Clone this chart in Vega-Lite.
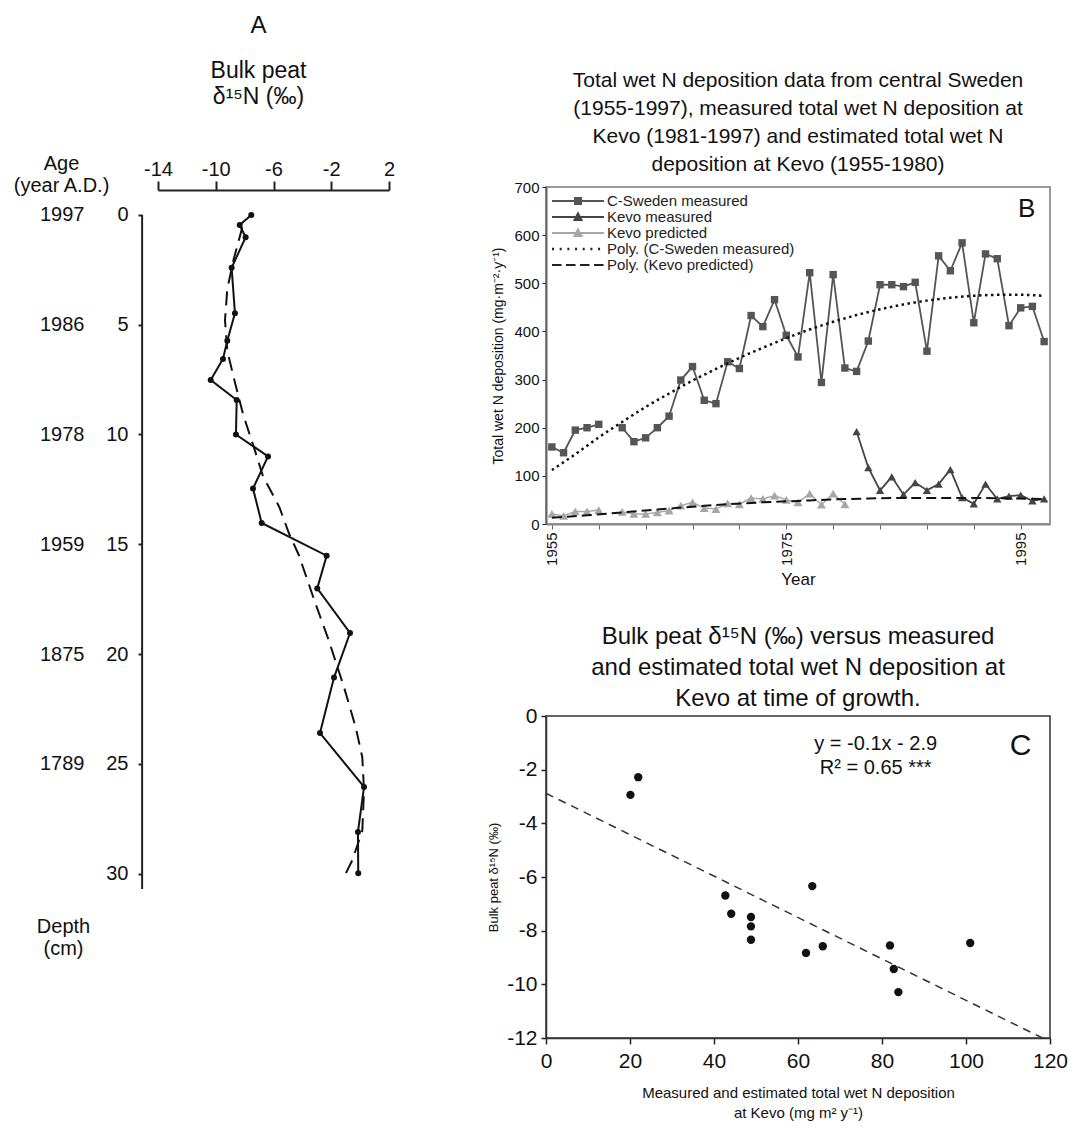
{
  "$schema": "https://vega.github.io/schema/vega-lite/v6.json",
  "background": "white",
  "padding": {"left": 12, "top": 14, "right": 5, "bottom": 5},
  "config": {
    "font": "Liberation Sans",
    "view": {"stroke": null},
    "axis": {"grid": false, "labelColor": "#111", "titleColor": "#111", "titleFontWeight": "normal", "domainColor": "#222", "tickColor": "#222", "labelFont": "Liberation Sans", "titleFont": "Liberation Sans"},
    "title": {"fontWeight": "normal", "color": "#111", "subtitleColor": "#111", "font": "Liberation Sans", "subtitleFont": "Liberation Sans"},
    "legend": {"labelFont": "Liberation Sans"}
  },
  "datasets": {
    "a_peat": [
      {"depth": 0, "d15N": -7.54}, {"depth": 0.46, "d15N": -8.34}, {"depth": 1.02, "d15N": -7.93},
      {"depth": 2.41, "d15N": -8.9}, {"depth": 4.48, "d15N": -8.67}, {"depth": 5.73, "d15N": -9.2},
      {"depth": 6.56, "d15N": -9.5}, {"depth": 7.52, "d15N": -10.35}, {"depth": 8.43, "d15N": -8.55},
      {"depth": 10.0, "d15N": -8.6}, {"depth": 11.0, "d15N": -6.38}, {"depth": 12.46, "d15N": -7.42},
      {"depth": 14.03, "d15N": -6.82}, {"depth": 15.52, "d15N": -2.32}, {"depth": 17.01, "d15N": -2.97},
      {"depth": 19.04, "d15N": -0.7}, {"depth": 21.07, "d15N": -1.81}, {"depth": 23.6, "d15N": -2.78},
      {"depth": 26.05, "d15N": 0.27}, {"depth": 28.1, "d15N": -0.15}, {"depth": 29.98, "d15N": -0.13}
    ],
    "a_trend": [
      {"depth": 0.56, "d15N": -8.16}, {"depth": 2.0, "d15N": -8.75}, {"depth": 3.37, "d15N": -9.2},
      {"depth": 4.8, "d15N": -9.36}, {"depth": 6.2, "d15N": -9.2}, {"depth": 7.55, "d15N": -8.7},
      {"depth": 9.1, "d15N": -8.1}, {"depth": 10.6, "d15N": -7.35}, {"depth": 11.9, "d15N": -6.73},
      {"depth": 13.3, "d15N": -5.6}, {"depth": 14.5, "d15N": -4.93}, {"depth": 15.5, "d15N": -4.24},
      {"depth": 17.5, "d15N": -3.2}, {"depth": 19.4, "d15N": -2.16}, {"depth": 21.5, "d15N": -1.12},
      {"depth": 23.35, "d15N": -0.3}, {"depth": 24.7, "d15N": 0.15}, {"depth": 26.2, "d15N": 0.27},
      {"depth": 28.05, "d15N": 0.15}, {"depth": 29.4, "d15N": -0.55}, {"depth": 30.0, "d15N": -1.0}
    ],
    "b": [
      {"year": 1955, "value": 160, "series": "C-Sweden measured"}, {"year": 1956, "value": 148, "series": "C-Sweden measured"},
      {"year": 1957, "value": 195, "series": "C-Sweden measured"}, {"year": 1958, "value": 200, "series": "C-Sweden measured"},
      {"year": 1959, "value": 207, "series": "C-Sweden measured"}, {"year": 1960, "value": null, "series": "C-Sweden measured"},
      {"year": 1961, "value": 200, "series": "C-Sweden measured"}, {"year": 1962, "value": 171, "series": "C-Sweden measured"},
      {"year": 1963, "value": 179, "series": "C-Sweden measured"}, {"year": 1964, "value": 200, "series": "C-Sweden measured"},
      {"year": 1965, "value": 224, "series": "C-Sweden measured"}, {"year": 1966, "value": 299, "series": "C-Sweden measured"},
      {"year": 1967, "value": 327, "series": "C-Sweden measured"}, {"year": 1968, "value": 257, "series": "C-Sweden measured"},
      {"year": 1969, "value": 250, "series": "C-Sweden measured"}, {"year": 1970, "value": 337, "series": "C-Sweden measured"},
      {"year": 1971, "value": 323, "series": "C-Sweden measured"}, {"year": 1972, "value": 433, "series": "C-Sweden measured"},
      {"year": 1973, "value": 410, "series": "C-Sweden measured"}, {"year": 1974, "value": 466, "series": "C-Sweden measured"},
      {"year": 1975, "value": 392, "series": "C-Sweden measured"}, {"year": 1976, "value": 347, "series": "C-Sweden measured"},
      {"year": 1977, "value": 522, "series": "C-Sweden measured"}, {"year": 1978, "value": 294, "series": "C-Sweden measured"},
      {"year": 1979, "value": 518, "series": "C-Sweden measured"}, {"year": 1980, "value": 324, "series": "C-Sweden measured"},
      {"year": 1981, "value": 317, "series": "C-Sweden measured"}, {"year": 1982, "value": 380, "series": "C-Sweden measured"},
      {"year": 1983, "value": 497, "series": "C-Sweden measured"}, {"year": 1984, "value": 497, "series": "C-Sweden measured"},
      {"year": 1985, "value": 493, "series": "C-Sweden measured"}, {"year": 1986, "value": 502, "series": "C-Sweden measured"},
      {"year": 1987, "value": 359, "series": "C-Sweden measured"}, {"year": 1988, "value": 557, "series": "C-Sweden measured"},
      {"year": 1989, "value": 526, "series": "C-Sweden measured"}, {"year": 1990, "value": 584, "series": "C-Sweden measured"},
      {"year": 1991, "value": 418, "series": "C-Sweden measured"}, {"year": 1992, "value": 561, "series": "C-Sweden measured"},
      {"year": 1993, "value": 551, "series": "C-Sweden measured"}, {"year": 1994, "value": 412, "series": "C-Sweden measured"},
      {"year": 1995, "value": 449, "series": "C-Sweden measured"}, {"year": 1996, "value": 452, "series": "C-Sweden measured"},
      {"year": 1997, "value": 379, "series": "C-Sweden measured"},
      {"year": 1981, "value": 192, "series": "Kevo measured"}, {"year": 1982, "value": 117, "series": "Kevo measured"},
      {"year": 1983, "value": 70, "series": "Kevo measured"}, {"year": 1984, "value": 98, "series": "Kevo measured"},
      {"year": 1985, "value": 61, "series": "Kevo measured"}, {"year": 1986, "value": 86, "series": "Kevo measured"},
      {"year": 1987, "value": 70, "series": "Kevo measured"}, {"year": 1988, "value": 83, "series": "Kevo measured"},
      {"year": 1989, "value": 113, "series": "Kevo measured"}, {"year": 1990, "value": 55, "series": "Kevo measured"},
      {"year": 1991, "value": 42, "series": "Kevo measured"}, {"year": 1992, "value": 83, "series": "Kevo measured"},
      {"year": 1993, "value": 52, "series": "Kevo measured"}, {"year": 1994, "value": 58, "series": "Kevo measured"},
      {"year": 1995, "value": 60, "series": "Kevo measured"}, {"year": 1996, "value": 48, "series": "Kevo measured"},
      {"year": 1997, "value": 52, "series": "Kevo measured"},
      {"year": 1955, "value": 21, "series": "Kevo predicted"}, {"year": 1956, "value": 17, "series": "Kevo predicted"},
      {"year": 1957, "value": 26, "series": "Kevo predicted"}, {"year": 1958, "value": 26, "series": "Kevo predicted"},
      {"year": 1959, "value": 29, "series": "Kevo predicted"}, {"year": 1960, "value": null, "series": "Kevo predicted"},
      {"year": 1961, "value": 25, "series": "Kevo predicted"}, {"year": 1962, "value": 21, "series": "Kevo predicted"},
      {"year": 1963, "value": 21, "series": "Kevo predicted"}, {"year": 1964, "value": 24, "series": "Kevo predicted"},
      {"year": 1965, "value": 28, "series": "Kevo predicted"}, {"year": 1966, "value": 38, "series": "Kevo predicted"},
      {"year": 1967, "value": 45, "series": "Kevo predicted"}, {"year": 1968, "value": 33, "series": "Kevo predicted"},
      {"year": 1969, "value": 31, "series": "Kevo predicted"}, {"year": 1970, "value": 43, "series": "Kevo predicted"},
      {"year": 1971, "value": 41, "series": "Kevo predicted"}, {"year": 1972, "value": 54, "series": "Kevo predicted"},
      {"year": 1973, "value": 52, "series": "Kevo predicted"}, {"year": 1974, "value": 59, "series": "Kevo predicted"},
      {"year": 1975, "value": 50, "series": "Kevo predicted"}, {"year": 1976, "value": 45, "series": "Kevo predicted"},
      {"year": 1977, "value": 63, "series": "Kevo predicted"}, {"year": 1978, "value": 40, "series": "Kevo predicted"},
      {"year": 1979, "value": 63, "series": "Kevo predicted"}, {"year": 1980, "value": 41, "series": "Kevo predicted"},
      {"year": 1955, "value": 112, "series": "Poly. (C-Sweden measured)"}, {"year": 1957, "value": 145, "series": "Poly. (C-Sweden measured)"},
      {"year": 1959, "value": 180, "series": "Poly. (C-Sweden measured)"}, {"year": 1961, "value": 212, "series": "Poly. (C-Sweden measured)"},
      {"year": 1963, "value": 243, "series": "Poly. (C-Sweden measured)"}, {"year": 1965, "value": 271, "series": "Poly. (C-Sweden measured)"},
      {"year": 1967, "value": 298, "series": "Poly. (C-Sweden measured)"}, {"year": 1969, "value": 322, "series": "Poly. (C-Sweden measured)"},
      {"year": 1971, "value": 345, "series": "Poly. (C-Sweden measured)"}, {"year": 1973, "value": 366, "series": "Poly. (C-Sweden measured)"},
      {"year": 1975, "value": 386, "series": "Poly. (C-Sweden measured)"}, {"year": 1977, "value": 404, "series": "Poly. (C-Sweden measured)"},
      {"year": 1979, "value": 420, "series": "Poly. (C-Sweden measured)"}, {"year": 1981, "value": 434, "series": "Poly. (C-Sweden measured)"},
      {"year": 1983, "value": 446, "series": "Poly. (C-Sweden measured)"}, {"year": 1985, "value": 456, "series": "Poly. (C-Sweden measured)"},
      {"year": 1987, "value": 464, "series": "Poly. (C-Sweden measured)"}, {"year": 1989, "value": 470, "series": "Poly. (C-Sweden measured)"},
      {"year": 1991, "value": 474, "series": "Poly. (C-Sweden measured)"}, {"year": 1993, "value": 476, "series": "Poly. (C-Sweden measured)"},
      {"year": 1995, "value": 476, "series": "Poly. (C-Sweden measured)"}, {"year": 1997, "value": 474, "series": "Poly. (C-Sweden measured)"},
      {"year": 1955, "value": 13, "series": "Poly. (Kevo predicted)"}, {"year": 1958, "value": 18, "series": "Poly. (Kevo predicted)"},
      {"year": 1961, "value": 24, "series": "Poly. (Kevo predicted)"}, {"year": 1964, "value": 30, "series": "Poly. (Kevo predicted)"},
      {"year": 1967, "value": 36, "series": "Poly. (Kevo predicted)"}, {"year": 1970, "value": 41, "series": "Poly. (Kevo predicted)"},
      {"year": 1973, "value": 45, "series": "Poly. (Kevo predicted)"}, {"year": 1976, "value": 48, "series": "Poly. (Kevo predicted)"},
      {"year": 1979, "value": 51, "series": "Poly. (Kevo predicted)"}, {"year": 1982, "value": 53, "series": "Poly. (Kevo predicted)"},
      {"year": 1985, "value": 54, "series": "Poly. (Kevo predicted)"}, {"year": 1988, "value": 54, "series": "Poly. (Kevo predicted)"},
      {"year": 1991, "value": 54, "series": "Poly. (Kevo predicted)"}, {"year": 1994, "value": 53, "series": "Poly. (Kevo predicted)"},
      {"year": 1997, "value": 52, "series": "Poly. (Kevo predicted)"}
    ],
    "c_pts": [
      {"dep": 20.1, "d15N": -2.94}, {"dep": 21.96, "d15N": -2.28}, {"dep": 42.7, "d15N": -6.69},
      {"dep": 44.1, "d15N": -7.37}, {"dep": 48.8, "d15N": -7.49}, {"dep": 48.8, "d15N": -7.84},
      {"dep": 48.8, "d15N": -8.34}, {"dep": 61.9, "d15N": -8.83}, {"dep": 63.4, "d15N": -6.34},
      {"dep": 65.9, "d15N": -8.58}, {"dep": 81.9, "d15N": -8.55}, {"dep": 82.8, "d15N": -9.43},
      {"dep": 83.9, "d15N": -10.29}, {"dep": 101.0, "d15N": -8.46}
    ],
    "c_fit": [
      {"dep": 0, "d15N": -2.88}, {"dep": 118.2, "d15N": -12}
    ]
  },
  "bounds": "flush",
  "spacing": 157,
  "resolve": {"scale": {"color": "independent", "shape": "independent"}, "legend": {"color": "independent", "shape": "independent"}},
  "hconcat": [
    {
      "width": 231,
      "height": 702,
      "title": {"text": "A", "subtitle": ["Bulk peat", "δ¹⁵N (‰)"], "fontSize": 24, "subtitleFontSize": 23, "subtitleLineHeight": 26, "subtitlePadding": 22, "anchor": "middle", "dx": -15, "offset": 44},
      "resolve": {"scale": {"y": "independent"}},
      "layer": [
        {
          "data": {"values": [{}]},
          "mark": {"type": "rule", "color": "#222", "strokeWidth": 2},
          "encoding": {
            "x": {"datum": -15.1, "type": "quantitative", "scale": {"domain": [-14, 2], "nice": false, "zero": false}},
            "y": {"datum": 0, "type": "quantitative", "scale": {"domain": [-1.27, 30.7], "reverse": true, "nice": false, "zero": false}, "axis": null},
            "y2": {"datum": 30.7}
          }
        },
        {
          "data": {"name": "a_peat"},
          "mark": {"type": "line", "color": "#111", "strokeWidth": 2, "point": {"filled": true, "size": 36, "color": "#111"}},
          "encoding": {
            "x": {"field": "d15N", "type": "quantitative", "scale": {"domain": [-14, 2], "nice": false, "zero": false},
              "axis": {"orient": "top", "values": [-14, -12, -10, -8, -6, -4, -2, 0, 2], "labelExpr": "(datum.value + 14) % 4 == 0 ? '' + datum.value : ''", "title": null, "tickSize": 9, "tickWidth": 2, "domainWidth": 2, "labelPadding": 2, "labelFontSize": 20, "offset": -3, "labelFlush": false, "labelOverlap": false}},
            "y": {"field": "depth", "type": "quantitative", "scale": {"domain": [-1.27, 30.7], "reverse": true, "nice": false, "zero": false},
              "axis": {"orient": "left", "values": [0, 5, 10, 15, 20, 25, 30], "domain": false, "tickSize": 4, "tickWidth": 2, "labelPadding": 10, "labelFontSize": 20, "offset": 16, "title": ["Depth", "(cm)"], "titleFontSize": 20, "titleAngle": 0, "titleAlign": "center", "titleBaseline": "top", "titleX": -79, "titleY": 729, "titleLineHeight": 22}},
            "order": {"field": "depth", "type": "quantitative"}
          }
        },
        {
          "data": {"name": "a_trend"},
          "mark": {"type": "line", "color": "#111", "strokeWidth": 2, "strokeDash": [14, 8]},
          "encoding": {
            "x": {"field": "d15N", "type": "quantitative"},
            "y": {"field": "depth", "type": "quantitative", "scale": {"domain": [-1.27, 30.7], "reverse": true, "nice": false, "zero": false},
              "axis": {"orient": "left", "values": [0, 5, 10, 15, 20, 25], "labelExpr": "datum.value == 0 ? '1997' : datum.value == 5 ? '1986' : datum.value == 10 ? '1978' : datum.value == 15 ? '1959' : datum.value == 20 ? '1875' : '1789'", "domain": false, "ticks": false, "labelPadding": 0, "offset": 74, "labelFontSize": 20, "title": ["Age", "(year A.D.)"], "titleFontSize": 20, "titleAngle": 0, "titleAlign": "center", "titleBaseline": "top", "titleX": -23, "titleY": -34, "titleLineHeight": 22}},
            "order": {"field": "depth", "type": "quantitative"}
          }
        }
      ]
    },
    {
      "bounds": "flush",
      "spacing": 192,
      "resolve": {"scale": {"color": "independent", "shape": "independent"}, "legend": {"color": "independent", "shape": "independent"}},
      "vconcat": [
        {
          "width": 504,
          "height": 337,
          "view": {"stroke": "#9a9a9a", "strokeWidth": 2},
          "title": {"text": ["Total wet N deposition data from central Sweden", "(1955-1997), measured total wet N deposition at", "Kevo (1981-1997) and estimated total wet N", "deposition at Kevo (1955-1980)"], "fontSize": 21, "lineHeight": 28, "anchor": "middle", "offset": 5},
          "data": {"name": "b"},
          "layer": [
            {
              "transform": [{"filter": {"field": "series", "equal": "C-Sweden measured"}}],
              "mark": {"type": "line", "color": "#555", "strokeWidth": 1.8, "point": {"shape": "square", "filled": true, "size": 55, "color": "#555", "opacity": 1}},
              "encoding": {
                "x": {"field": "year", "type": "quantitative", "scale": {"domain": [1954.5, 1997.5], "nice": false, "zero": false},
                  "axis": {"values": [1955, 1956, 1957, 1958, 1959, 1960, 1961, 1962, 1963, 1964, 1965, 1966, 1967, 1968, 1969, 1970, 1971, 1972, 1973, 1974, 1975, 1976, 1977, 1978, 1979, 1980, 1981, 1982, 1983, 1984, 1985, 1986, 1987, 1988, 1989, 1990, 1991, 1992, 1993, 1994, 1995, 1996, 1997], "labelExpr": "datum.value % 5 == 0 ? '' + datum.value : ''", "labelOverlap": false, "labelAngle": -90, "labelFontSize": 15, "labelPadding": 3, "tickSize": 5, "domainColor": "#888", "domainWidth": 2, "tickColor": "#666", "title": "Year", "titleFontSize": 17, "titlePadding": 6}},
                "y": {"field": "value", "type": "quantitative", "scale": {"domain": [0, 700], "nice": false},
                  "axis": {"values": [0, 100, 200, 300, 400, 500, 600, 700], "tickSize": 4, "labelFontSize": 15, "labelPadding": 3, "domainColor": "#666", "domainWidth": 2, "title": "Total wet N deposition (mg·m⁻²·y⁻¹)", "titleFontSize": 14, "titlePadding": 8}}
              }
            },
            {
              "transform": [{"filter": {"field": "series", "equal": "Kevo measured"}}],
              "mark": {"type": "line", "color": "#444", "strokeWidth": 1.8, "point": {"shape": "triangle-up", "filled": true, "size": 70, "color": "#444", "opacity": 1}},
              "encoding": {"x": {"field": "year", "type": "quantitative"}, "y": {"field": "value", "type": "quantitative"}}
            },
            {
              "transform": [{"filter": {"field": "series", "equal": "Kevo predicted"}}],
              "mark": {"type": "line", "color": "#aaa", "strokeWidth": 1.5, "point": {"shape": "triangle-up", "filled": true, "size": 80, "color": "#a6a6a6", "opacity": 1}},
              "encoding": {"x": {"field": "year", "type": "quantitative"}, "y": {"field": "value", "type": "quantitative"}}
            },
            {
              "transform": [{"filter": {"field": "series", "equal": "Poly. (C-Sweden measured)"}}],
              "mark": {"type": "line", "color": "#111", "strokeWidth": 2.5, "strokeDash": [2.5, 3.5], "interpolate": "monotone"},
              "encoding": {"x": {"field": "year", "type": "quantitative"}, "y": {"field": "value", "type": "quantitative"}}
            },
            {
              "transform": [{"filter": {"field": "series", "equal": "Poly. (Kevo predicted)"}}],
              "mark": {"type": "line", "color": "#111", "strokeWidth": 2, "strokeDash": [10, 5], "interpolate": "monotone"},
              "encoding": {"x": {"field": "year", "type": "quantitative"}, "y": {"field": "value", "type": "quantitative"}}
            },
            {
              "data": {"values": []},
              "mark": {"type": "point", "filled": true, "opacity": 1, "size": 256, "strokeWidth": 0},
              "encoding": {
                "x": {"field": "year", "type": "quantitative"},
                "y": {"field": "value", "type": "quantitative"},
                "color": {"field": "series", "type": "nominal",
                  "scale": {"domain": ["C-Sweden measured", "Kevo measured", "Kevo predicted", "Poly. (C-Sweden measured)", "Poly. (Kevo predicted)"], "range": ["#555555", "#444444", "#a6a6a6", "#222222", "#222222"]},
                  "legend": {"title": null, "orient": "top-left", "offset": 6, "padding": 0, "labelFontSize": 15, "labelColor": "#222", "labelOffset": 39, "rowPadding": 0, "symbolSize": 256, "symbolStrokeWidth": 0, "labelLimit": 400}},
                "shape": {"field": "series", "type": "nominal",
                  "scale": {"domain": ["C-Sweden measured", "Kevo measured", "Kevo predicted", "Poly. (C-Sweden measured)", "Poly. (Kevo predicted)"],
                    "range": [
                      "M-1,-0.11H5.5V0.11H-1Z M1.75,-0.5H2.75V0.5H1.75Z",
                      "M-1,-0.11H5.5V0.11H-1Z M2.25,-0.72L2.9,0.5L1.6,0.5Z",
                      "M-1,-0.11H5.5V0.11H-1Z M2.25,-0.72L2.9,0.5L1.6,0.5Z",
                      "M-1,-0.16h0.25v0.32h-0.25Z M-0.04,-0.16h0.25v0.32h-0.25Z M0.92,-0.16h0.25v0.32h-0.25Z M1.88,-0.16h0.25v0.32h-0.25Z M2.84,-0.16h0.25v0.32h-0.25Z M3.8,-0.16h0.25v0.32h-0.25Z M4.76,-0.16h0.25v0.32h-0.25Z",
                      "M-1,-0.13h1.19v0.26h-1.19Z M0.75,-0.13h1.19v0.26h-1.19Z M2.5,-0.13h1.19v0.26h-1.19Z M4.25,-0.13h1.19v0.26h-1.19Z"
                    ]},
                  "legend": {"title": null, "orient": "top-left", "offset": 6, "padding": 0, "labelFontSize": 15, "labelColor": "#222", "labelOffset": 39, "rowPadding": 0, "symbolSize": 256, "symbolStrokeWidth": 0, "labelLimit": 400}}
              }
            },
            {
              "data": {"values": [{"label": "B"}]},
              "mark": {"type": "text", "fontSize": 26, "color": "#111"},
              "encoding": {"x": {"datum": 1995.5, "type": "quantitative"}, "y": {"datum": 655, "type": "quantitative"}, "text": {"field": "label"}}
            }
          ]
        },
        {
          "width": 504,
          "height": 322,
          "view": {"stroke": "#333", "strokeWidth": 1.5},
          "title": {"text": ["Bulk peat δ¹⁵N (‰) versus measured", "and estimated total wet N deposition at", "Kevo at time of growth."], "fontSize": 24, "lineHeight": 31, "anchor": "middle", "offset": -6},
          "layer": [
            {
              "data": {"name": "c_fit"},
              "mark": {"type": "line", "color": "#333", "strokeWidth": 1.5, "strokeDash": [8, 6]},
              "encoding": {
                "x": {"field": "dep", "type": "quantitative", "scale": {"domain": [0, 120], "nice": false, "zero": false},
                  "axis": {"values": [0, 20, 40, 60, 80, 100, 120], "labelExpr": "'' + datum.value", "tickSize": 6, "tickWidth": 1.5, "labelFontSize": 21, "labelPadding": 6, "labelFlush": false, "domainColor": "#333", "domainWidth": 1.5, "title": ["Measured and estimated total wet N deposition", "at Kevo (mg m² y⁻¹)"], "titleFontSize": 15, "titleLineHeight": 20, "titlePadding": 14}},
                "y": {"field": "d15N", "type": "quantitative", "scale": {"domain": [-12, 0], "nice": false, "zero": false},
                  "axis": {"values": [-12, -10, -8, -6, -4, -2, 0], "labelExpr": "'' + datum.value", "tickSize": 5, "tickWidth": 1.5, "labelFontSize": 21, "labelPadding": 4, "labelFlush": false, "domainColor": "#333", "domainWidth": 1.5, "title": "Bulk peat δ¹⁵N (‰)", "titleFontSize": 13, "titlePadding": 6}}
              }
            },
            {
              "data": {"name": "c_pts"},
              "mark": {"type": "circle", "color": "#111", "size": 70, "opacity": 1},
              "encoding": {"x": {"field": "dep", "type": "quantitative"}, "y": {"field": "d15N", "type": "quantitative"}}
            },
            {
              "data": {"values": [{"label": "y = -0.1x - 2.9"}]},
              "mark": {"type": "text", "fontSize": 20, "color": "#111"},
              "encoding": {"x": {"datum": 78.5, "type": "quantitative"}, "y": {"datum": -1.03, "type": "quantitative"}, "text": {"field": "label"}}
            },
            {
              "data": {"values": [{"label": "R² = 0.65 ***"}]},
              "mark": {"type": "text", "fontSize": 20, "color": "#111"},
              "encoding": {"x": {"datum": 78.5, "type": "quantitative"}, "y": {"datum": -1.93, "type": "quantitative"}, "text": {"field": "label"}}
            },
            {
              "data": {"values": [{"label": "C"}]},
              "mark": {"type": "text", "fontSize": 30, "color": "#111"},
              "encoding": {"x": {"datum": 113, "type": "quantitative"}, "y": {"datum": -1.1, "type": "quantitative"}, "text": {"field": "label"}}
            }
          ]
        }
      ]
    }
  ]
}
